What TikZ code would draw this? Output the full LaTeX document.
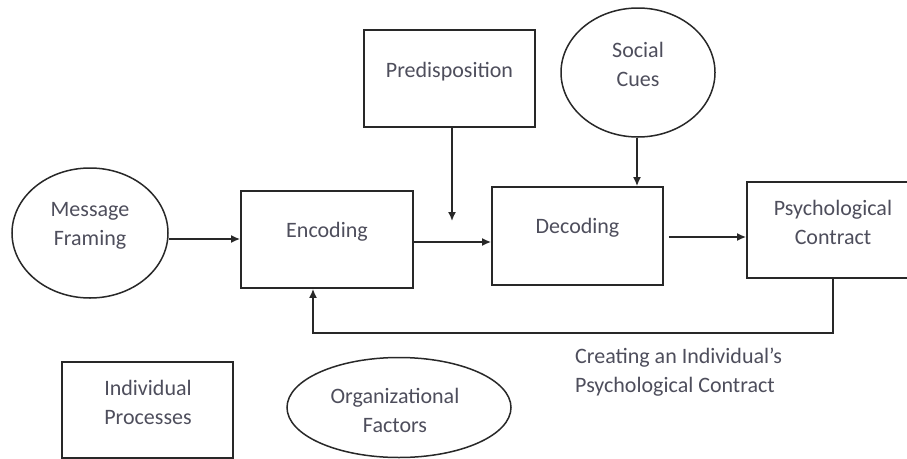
\documentclass[tikz,border=0pt]{standalone}
\usepackage{fontspec}
\setmainfont{Carlito}
\usetikzlibrary{arrows.meta,shapes.geometric}
\definecolor{txt}{RGB}{78,78,92}
\definecolor{ln}{RGB}{40,40,40}
\tikzset{
  boxshape/.style={draw=ln,line width=1.8pt,rectangle,inner sep=0pt},
  ellshape/.style={draw=ln,line width=1.5pt,ellipse,inner sep=0pt},
  lbl/.style={text=txt,align=center,inner sep=0pt,font=\fontsize{22}{29}\selectfont},
  arr/.style={draw=ln,line width=1.6pt,-{Latex[length=9pt,width=8pt]}},
  plain/.style={draw=ln,line width=1.6pt}
}
\begin{document}
\begin{tikzpicture}[x=1pt,y=-1pt]
\useasboundingbox (0,0) rectangle (907,458);
\fill[white] (0,0) rectangle (907,458);
% shapes
\node[ellshape,minimum width=156pt,minimum height=130pt] (mf) at (90,233) {};
\node[boxshape,minimum width=172pt,minimum height=97pt] (enc) at (327,239.5) {};
\node[boxshape,minimum width=171pt,minimum height=97pt] (pre) at (449.5,78.5) {};
\node[ellshape,minimum width=154pt,minimum height=129pt] (sc) at (638,72.5) {};
\node[boxshape,minimum width=171pt,minimum height=98pt] (dec) at (577.5,236) {};
\node[boxshape,minimum width=162pt,minimum height=96pt] (pc) at (828,230) {};
\node[boxshape,minimum width=171pt,minimum height=96pt] (ip) at (147.5,410) {};
\node[ellshape,minimum width=224pt,minimum height=100pt] (of) at (399,407.5) {};
% texts
\node[lbl] (mft) at (90,226) {Message\\Framing};
\node[lbl] (enct) at (327,232) {Encoding};
\node[lbl] (pret) at (449.5,72) {Predisposition};
\node[lbl] (sct) at (638,64.5) {Social\\Cues};
\node[lbl] (dect) at (577.5,228) {Decoding};
\node[lbl] (pct) at (833,222.5) {Psychological\\Contract};
\node[lbl] (ipt) at (148,402.5) {Individual\\Processes};
\node[lbl] (oft) at (395,410) {Organizational\\Factors};
\node[lbl,align=left,anchor=west] (cap) at (575,372.5) {Creating an Individual’s\\Psychological Contract};
% connectors
\coordinate (pend) at (452,221);
\coordinate (fb1) at (833,333);
\coordinate (fb2) at (313,333);
\draw[arr] (mf.east |- 0,239) -- (enc.west |- 0,239);
\draw[arr] (enc.east |- 0,242) -- (dec.west |- 0,242);
\draw[arr] (pre.south -| pend) -- (pend);
\draw[arr] (sc.south -| 637,0) -- (dec.north -| 637,0);
\draw[arr] ([xshift=5pt]dec.east |- 0,237) -- (pc.west |- 0,237);
\draw[arr] (pc.south -| fb1) -- (fb1) -- (fb2) -- (enc.south -| fb2);
\end{tikzpicture}
\end{document}
